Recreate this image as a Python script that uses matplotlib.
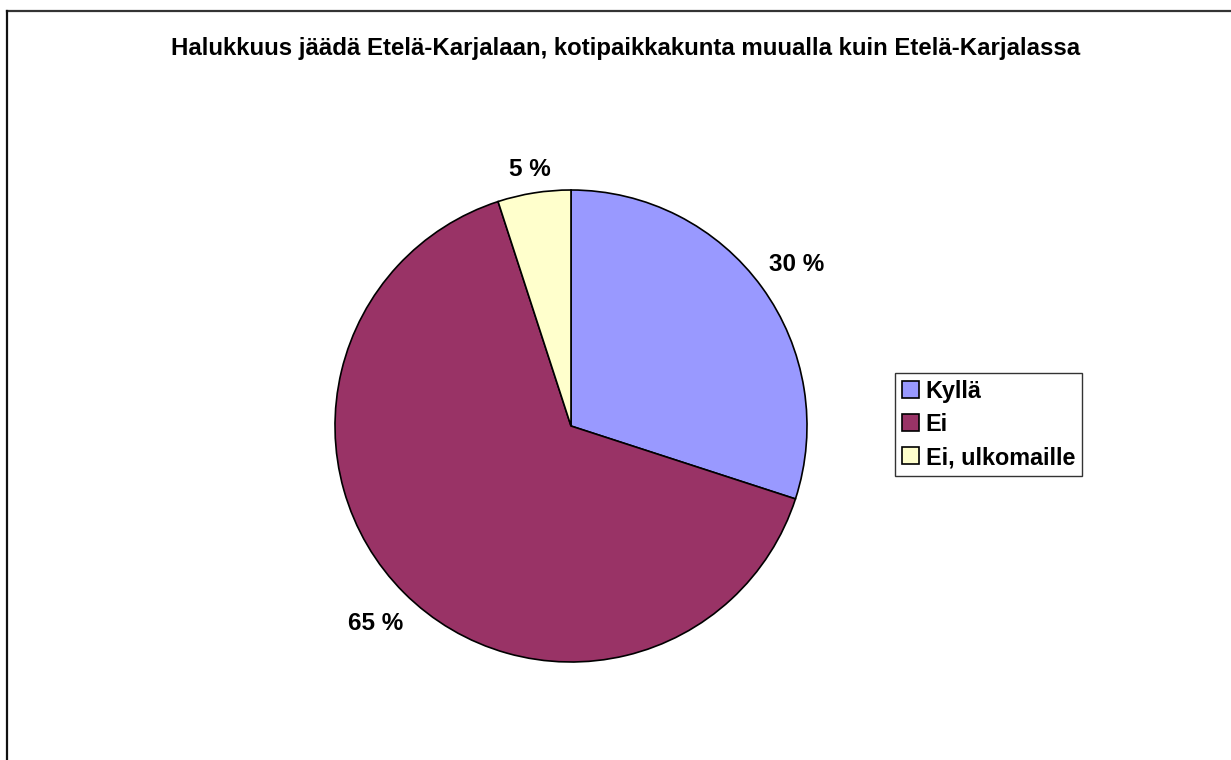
import matplotlib
matplotlib.use("Agg")
import matplotlib.pyplot as plt
import matplotlib.transforms as mtransforms
import numpy as np

title = "Halukkuus jäädä Etelä-Karjalaan, kotipaikkakunta muualla kuin Etelä-Karjalassa"
categories = ["Kyllä", "Ei", "Ei, ulkomaille"]
values = [30, 65, 5]
colors = ["#9999FF", "#993366", "#FFFFCC"]
label_dist = [1.18, 1.17, 1.11]

plt.rcParams['font.family'] = ['Liberation Sans', 'DejaVu Sans']
W, H = 1231, 760
fig = plt.figure(figsize=(W / 100, H / 100), dpi=100)
fig.patch.set_facecolor("white")

# frame lines (top and left visible)
fig.add_artist(plt.Line2D([7 / W, 1.0], [1 - 11 / H, 1 - 11 / H], color="#333333", lw=1.6))
fig.add_artist(plt.Line2D([7 / W, 7 / W], [1 - 11 / H, 0.0], color="#111111", lw=1.6))

cx, cy, r = 571, 426, 236
ax = fig.add_axes([(cx - r) / W, (H - cy - r) / H, 2 * r / W, 2 * r / H])
wedges, _ = ax.pie(values, colors=colors, startangle=90, counterclock=False,
                   wedgeprops=dict(edgecolor="black", linewidth=1.2))
ax.set_xlim(-1, 1)
ax.set_ylim(-1, 1)
ax.set_aspect("auto")
ax.axis("off")

lab_fs = 17.5
cap_shift = -0.716 * lab_fs / 2  # points, to center caps on the anchor
trans = mtransforms.offset_copy(ax.transData, fig=fig, x=0, y=cap_shift, units="points")
total = sum(values)
for w, v, d in zip(wedges, values, label_dist):
    ang = np.deg2rad((w.theta1 + w.theta2) / 2)
    ax.text(d * np.cos(ang), d * np.sin(ang), f"{round(100 * v / total)} %",
            ha="center", va="baseline", fontsize=lab_fs, fontweight="bold",
            transform=trans)

fig.text(625.5 / W, 1 - 55 / H, title, ha="center", va="baseline",
         fontsize=17.3, fontweight="bold")

leg = fig.legend(wedges, categories, loc="upper left",
                 bbox_to_anchor=(895 / W, 1 - 373 / H), frameon=True,
                 fancybox=False, shadow=False, prop=dict(size=16.8, weight="bold"),
                 handlelength=0.74, handleheight=0.74, handletextpad=0.3,
                 labelspacing=0.44, borderpad=0.28, borderaxespad=0)
leg.get_frame().set_edgecolor("black")
leg.get_frame().set_linewidth(1.0)

fig.savefig("out.png", dpi=100, facecolor="white")
